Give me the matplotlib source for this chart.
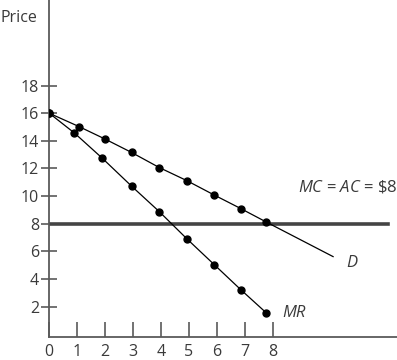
import matplotlib
matplotlib.use("Agg")
import matplotlib.pyplot as plt

plt.rcParams['font.family'] = ['Open Sans', 'DejaVu Sans']
plt.rcParams['mathtext.fontset'] = 'custom'
plt.rcParams['mathtext.rm'] = 'Open Sans'
plt.rcParams['mathtext.it'] = 'Open Sans:italic'

# Demand curve points (quantity, price) plus line end
d_q = [0, 1.06, 2.0, 2.95, 3.94, 4.92, 5.90, 6.86, 7.78]
d_p = [16, 15.04, 14.13, 13.16, 12.07, 11.13, 10.09, 9.10, 8.12]
d_end_q, d_end_p = 10.17, 5.62

# Marginal revenue points
mr_q = [0, 0.90, 1.88, 2.95, 3.94, 4.93, 5.91, 6.86, 7.78]
mr_p = [16, 14.57, 12.78, 10.72, 8.88, 6.91, 5.04, 3.23, 1.54]

mc_price = 8
x_ticks = [0, 1, 2, 3, 4, 5, 6, 7, 8]
y_ticks = [2, 4, 6, 8, 10, 12, 14, 16, 18]

txt = '#3a3a3a'
axc = '#5a5a5a'

fig = plt.figure(figsize=(3.97, 3.6), dpi=100)
ax = fig.add_axes([49.3/397, 23/360, 1 - 49.3/397, 337/360])
ax.set_xlim(0, 12.46)
ax.set_ylim(-0.2, 24.2)

for s in ['top', 'right']:
    ax.spines[s].set_visible(False)
for s in ['left', 'bottom']:
    ax.spines[s].set_color(axc)
    ax.spines[s].set_linewidth(1.3)

ax.axhline(mc_price, xmin=0, xmax=(387.7-49.3)/(397-49.3), color='#444444', lw=2.6, zorder=2)

ax.plot(d_q + [d_end_q], d_p + [d_end_p], color='black', lw=0.9, zorder=3)
ax.plot(d_q, d_p, 'o', color='black', ms=5, zorder=4)
ax.plot(mr_q, mr_p, color='black', lw=0.9, zorder=3)
ax.plot(mr_q, mr_p, 'o', color='black', ms=5, zorder=4)

ax.set_xticks(x_ticks)
ax.set_xticklabels([str(v) for v in x_ticks])
ax.set_yticks(y_ticks)
ax.set_yticklabels([str(v) for v in y_ticks])
ax.tick_params(axis='x', direction='in', length=11, width=1.2, color=axc,
               labelsize=11.5, labelcolor=txt, pad=5)
ax.tick_params(axis='y', direction='inout', length=11, width=1.2, color=axc,
               labelsize=11.5, labelcolor=txt, pad=2)

fig.text(0/397, 1 - 18/360, 'Price', ha='left', va='center', fontsize=11.5, color=txt)
fig.text(397/397, 1 - 187/360, r'$\mathit{MC}$ = $\mathit{AC}$ = \$8', ha='right',
         va='center', fontsize=12, color=txt)
fig.text(352/397, 1 - 263/360, 'D', ha='center', va='center', fontsize=12,
         color=txt, style='italic')
fig.text(294/397, 1 - 313/360, 'MR', ha='center', va='center', fontsize=12,
         color=txt, style='italic')

fig.savefig('out.png', dpi=100)
